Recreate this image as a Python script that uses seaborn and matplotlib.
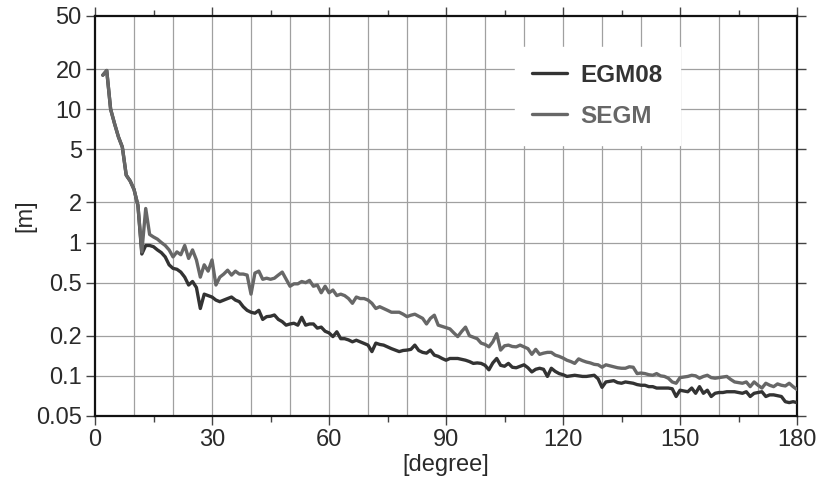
import numpy as np
import pandas as pd
import matplotlib
matplotlib.use("Agg")
import matplotlib.pyplot as plt
import matplotlib.ticker as mticker
import seaborn as sns

# spherical harmonic degree 2..180
degree = list(range(2, 181))

egm08 = [
    18.0, 19.5, 10.0, 7.8, 6.2, 5.2, 3.2, 2.9, 2.5, 1.9,            # 2-11
    0.82, 0.95, 0.95, 0.93, 0.88, 0.84, 0.78, 0.68, 0.64, 0.63,     # 12-21
    0.60, 0.55, 0.48, 0.51, 0.46, 0.32, 0.41, 0.40, 0.39, 0.37,     # 22-31
    0.36, 0.37, 0.38, 0.39, 0.37, 0.36, 0.33, 0.31, 0.30, 0.295,    # 32-41
    0.31, 0.265, 0.278, 0.28, 0.286, 0.265, 0.255, 0.24, 0.245, 0.248,  # 42-51
    0.24, 0.275, 0.24, 0.245, 0.245, 0.228, 0.232, 0.216, 0.21, 0.197,  # 52-61
    0.214, 0.19, 0.19, 0.186, 0.18, 0.185, 0.18, 0.175, 0.17, 0.152,    # 62-71
    0.176, 0.172, 0.17, 0.165, 0.16, 0.156, 0.152, 0.155, 0.156, 0.158, # 72-81
    0.17, 0.155, 0.15, 0.148, 0.156, 0.143, 0.14, 0.135, 0.131, 0.135,  # 82-91
    0.135, 0.135, 0.133, 0.131, 0.128, 0.124, 0.125, 0.124, 0.12, 0.111,  # 92-101
    0.125, 0.135, 0.12, 0.118, 0.124, 0.116, 0.115, 0.118, 0.121, 0.115,  # 102-111
    0.107, 0.112, 0.114, 0.112, 0.099, 0.114, 0.108, 0.104, 0.102, 0.099,  # 112-121
    0.100, 0.101, 0.100, 0.099, 0.099, 0.100, 0.101, 0.095, 0.082, 0.090,  # 122-131
    0.091, 0.092, 0.089, 0.088, 0.090, 0.089, 0.088, 0.086, 0.085, 0.085,  # 132-141
    0.083, 0.083, 0.081, 0.081, 0.081, 0.081, 0.080, 0.070, 0.078, 0.077,  # 142-151
    0.076, 0.081, 0.074, 0.083, 0.074, 0.078, 0.070, 0.074, 0.075, 0.075,  # 152-161
    0.076, 0.076, 0.076, 0.075, 0.074, 0.076, 0.070, 0.074, 0.075, 0.076,  # 162-171
    0.070, 0.072, 0.072, 0.071, 0.070, 0.064, 0.063, 0.064, 0.063,         # 172-180
]

segm = [
    18.0, 19.5, 10.0, 7.8, 6.2, 5.2, 3.2, 2.9, 2.5, 1.9,            # 2-11
    0.85, 1.8, 1.15, 1.1, 1.06, 1.0, 0.95, 0.88, 0.78, 0.85,        # 12-21
    0.81, 0.95, 0.76, 0.88, 0.74, 0.55, 0.68, 0.61, 0.74, 0.48,     # 22-31
    0.55, 0.58, 0.62, 0.57, 0.61, 0.58, 0.58, 0.57, 0.41, 0.59,     # 32-41
    0.61, 0.53, 0.54, 0.53, 0.54, 0.57, 0.60, 0.53, 0.47, 0.49,     # 42-51
    0.49, 0.51, 0.50, 0.52, 0.47, 0.48, 0.42, 0.47, 0.42, 0.44,     # 52-61
    0.40, 0.41, 0.40, 0.38, 0.35, 0.39, 0.38, 0.38, 0.37, 0.35,     # 62-71
    0.32, 0.33, 0.32, 0.31, 0.30, 0.30, 0.30, 0.29, 0.278, 0.285,   # 72-81
    0.29, 0.28, 0.27, 0.245, 0.27, 0.285, 0.24, 0.235, 0.23, 0.225, # 82-91
    0.21, 0.197, 0.215, 0.232, 0.20, 0.195, 0.19, 0.176, 0.172, 0.165,  # 92-101
    0.18, 0.207, 0.156, 0.168, 0.17, 0.166, 0.165, 0.17, 0.165, 0.16,   # 102-111
    0.145, 0.158, 0.145, 0.148, 0.15, 0.15, 0.143, 0.14, 0.136, 0.131,  # 112-121
    0.128, 0.124, 0.134, 0.13, 0.127, 0.125, 0.122, 0.121, 0.116, 0.121,  # 122-131
    0.119, 0.117, 0.115, 0.114, 0.114, 0.117, 0.116, 0.104, 0.105, 0.104,  # 132-141
    0.102, 0.101, 0.104, 0.100, 0.099, 0.096, 0.090, 0.088, 0.097, 0.098,  # 142-151
    0.099, 0.101, 0.100, 0.096, 0.099, 0.101, 0.097, 0.096, 0.097, 0.098,  # 152-161
    0.099, 0.094, 0.090, 0.089, 0.088, 0.090, 0.083, 0.090, 0.085, 0.081,  # 162-171
    0.088, 0.085, 0.083, 0.087, 0.085, 0.084, 0.088, 0.083, 0.079,         # 172-180
]

ytick_vals = [0.05, 0.1, 0.2, 0.5, 1, 2, 5, 10, 20, 50]
ytick_labels = ["0.05", "0.1", "0.2", "0.5", "1", "2", "5", "10", "20", "50"]
xtick_vals = [0, 30, 60, 90, 120, 150, 180]

colors = {"EGM08": "#333333", "SEGM": "#676767"}

df = pd.DataFrame({
    "degree": degree * 2,
    "value": egm08 + segm,
    "model": ["EGM08"] * len(degree) + ["SEGM"] * len(degree),
})

sns.set_theme(style="ticks")
plt.rcParams["font.family"] = ["Liberation Sans", "DejaVu Sans"]

fig = plt.figure(figsize=(8.22, 4.92), dpi=100)
ax = fig.add_axes([0.1156, 0.1545, 0.854, 0.813])

# vertical grid every 10 degrees, horizontal grid at the labelled values
for xv in range(10, 180, 10):
    ax.axvline(xv, color="#a0a0a0", lw=0.9, zorder=0)
for yv in ytick_vals[1:-1]:
    ax.axhline(yv, color="#a0a0a0", lw=0.9, zorder=0)

sns.lineplot(data=df, x="degree", y="value", hue="model", palette=colors,
             linewidth=2.4, ax=ax, zorder=3)

ax.set_yscale("log")
ax.set_xlim(0, 180)
ax.set_ylim(0.05, 50)
ax.set_xticks(xtick_vals)
ax.xaxis.set_minor_locator(mticker.MultipleLocator(15))
ax.yaxis.set_major_locator(mticker.FixedLocator(ytick_vals))
ax.yaxis.set_major_formatter(mticker.FixedFormatter(ytick_labels))
ax.yaxis.set_minor_locator(mticker.NullLocator())

ax.tick_params(axis="both", which="major", direction="out", length=6.5, width=1.0,
               color="#444444", labelsize=17, labelcolor="#2a2a2a",
               top=True, right=True, pad=3)
ax.tick_params(axis="x", which="minor", direction="out", length=4, width=1.0,
               color="#444444", top=True)

for sp in ax.spines.values():
    sp.set_linewidth(1.6)
    sp.set_color("#111111")

ax.set_xlabel("[degree]", fontsize=17, color="#2a2a2a", labelpad=2)
ax.set_ylabel("[m]", fontsize=17, color="#2a2a2a", labelpad=0)

# legend sits on a white patch that hides the grid behind it
leg = ax.legend(loc="upper left", bbox_to_anchor=(0.598, 0.9225), frameon=True,
                fancybox=False, framealpha=1.0, facecolor="white", edgecolor="white",
                handlelength=1.45, handletextpad=0.55, labelspacing=0.72,
                borderpad=0.7, borderaxespad=0.0,
                prop={"size": 17.5, "weight": "bold"})
for txt, name in zip(leg.get_texts(), ["EGM08", "SEGM"]):
    txt.set_color(colors[name])
leg.set_zorder(5)

fig.savefig("out.png", dpi=100)
